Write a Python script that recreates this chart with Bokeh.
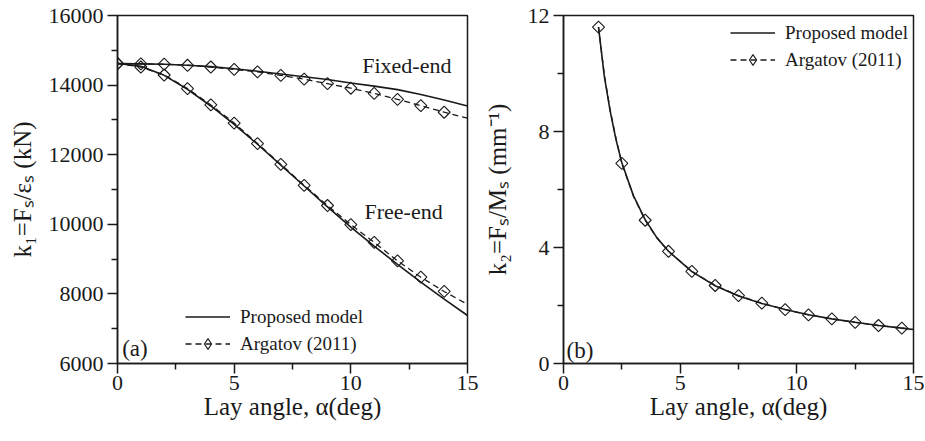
import numpy as np
from bokeh.plotting import figure
from bokeh.models import Legend, LegendItem, Label, FixedTicker, Range1d
from bokeh.layouts import row
from bokeh.embed import file_html
from bokeh.resources import INLINE

# ---------------- data: panel (a) ----------------
alpha_a = [0, 1, 2, 3, 4, 5, 6, 7, 8, 9, 10, 11, 12, 13, 14, 15]
fixed_proposed = [14620, 14610, 14600, 14570, 14530, 14470, 14400, 14320,
                  14240, 14160, 14060, 13970, 13870, 13730, 13570, 13400]
fixed_argatov = [14620, 14610, 14600, 14570, 14520, 14450, 14380, 14280,
                 14170, 14040, 13910, 13760, 13590, 13410, 13220, 13050]
free_proposed = [14620, 14540, 14280, 13880, 13400, 12870, 12300, 11700,
                 11100, 10500, 9920, 9370, 8850, 8340, 7850, 7380]
free_argatov = [14620, 14520, 14290, 13900, 13430, 12910, 12320, 11720,
                11120, 10540, 9990, 9480, 8950, 8480, 8070, 7700]
alpha_a_marks = alpha_a[:-1]
fixed_argatov_marks = fixed_argatov[:-1]
free_argatov_marks = free_argatov[:-1]

# ---------------- data: panel (b) ----------------
alpha_b = [1.5, 1.75, 2.0, 2.25, 2.5, 3.0, 3.5, 4.0, 4.5, 5.5, 6.5, 7.5,
           8.5, 9.5, 10.5, 11.5, 12.5, 13.5, 14.5, 15.0]
k2_proposed = [11.6, 9.9, 8.7, 7.72, 6.92, 5.78, 4.96, 4.34, 3.87, 3.17, 2.68,
               2.33, 2.07, 1.86, 1.68, 1.54, 1.42, 1.31, 1.22, 1.17]
k2_argatov = [11.6, 9.95, 8.74, 7.76, 6.90, 5.77, 4.94, 4.33, 3.87, 3.18, 2.69,
              2.34, 2.08, 1.86, 1.68, 1.54, 1.42, 1.31, 1.22, 1.17]
alpha_b_marks = [1.5, 2.5, 3.5, 4.5, 5.5, 6.5, 7.5, 8.5, 9.5, 10.5, 11.5,
                 12.5, 13.5, 14.5]
k2_argatov_marks = [11.6, 6.90, 4.94, 3.87, 3.18, 2.69, 2.34, 2.08, 1.86,
                    1.68, 1.54, 1.42, 1.31, 1.22]

x_ticks = [0, 5, 10, 15]
x_minor = [2.5, 7.5, 12.5]
ya_ticks = [6000, 8000, 10000, 12000, 14000, 16000]
ya_minor = [7000, 9000, 11000, 13000, 15000]
yb_ticks = [0, 4, 8, 12]
yb_minor = [2, 6, 10]

FONT = "Liberation Serif"
INK = "#1a1a1a"


def style(p):
    p.grid.visible = False
    p.outline_line_color = INK
    p.outline_line_width = 1.5
    for ax in (p.xaxis[0], p.yaxis[0]):
        ax.axis_line_color = INK
        ax.axis_line_width = 1.5
        ax.major_tick_line_color = INK
        ax.minor_tick_line_color = INK
        ax.major_tick_line_width = 1.5
        ax.minor_tick_line_width = 1.5
        ax.major_tick_out = 10
        ax.major_tick_in = 0
        ax.minor_tick_out = 6
        ax.minor_tick_in = 0
        ax.major_label_text_font = FONT
        ax.major_label_text_font_size = "22px"
        ax.major_label_text_color = INK
        ax.axis_label_text_font = FONT
        ax.axis_label_text_font_size = "25px"
        ax.axis_label_text_font_style = "normal"
        ax.axis_label_text_color = INK


def legend_for(p, items, loc):
    lg = Legend(items=items, location=loc)
    lg.background_fill_alpha = 0
    lg.border_line_color = None
    lg.padding = 0
    lg.margin = 0
    lg.spacing = 0
    lg.glyph_width = 45
    lg.glyph_height = 27
    lg.label_height = 27
    lg.label_standoff = 10
    lg.label_text_font = FONT
    lg.label_text_font_size = "19px"
    lg.label_text_color = INK
    p.add_layout(lg, "center")


def marks(p, x, y):
    return p.scatter(x, y, marker="square", angle=np.pi / 4, size=8.5,
                     fill_color=None, line_color=INK, line_width=1.1)


def legend_marker(p):
    # renderer with a NaN point: draws nothing in the plot, only supplies
    # the diamond symbol for the legend entry
    return p.scatter(np.array([np.nan]), np.array([np.nan]), marker="diamond",
                     size=13, fill_color=None, line_color=INK, line_width=1.1)


# ---------------- panel (a) ----------------
p1 = figure(width=480, height=441,
            x_range=Range1d(0, 15), y_range=Range1d(6000, 16000),
            min_border_left=117, min_border_right=13,
            min_border_top=15, min_border_bottom=76,
            output_backend="svg", toolbar_location=None)
style(p1)
p1.xaxis.ticker = FixedTicker(ticks=x_ticks, minor_ticks=x_minor)
p1.yaxis.ticker = FixedTicker(ticks=ya_ticks, minor_ticks=ya_minor)
p1.xaxis.axis_label = "Lay angle, \u03b1(deg)"
p1.yaxis.axis_label = "k\u2081=F\u209b/\u03b5\u209b (kN)"
p1.xaxis.major_label_standoff = 2
p1.xaxis.axis_label_standoff = 0
p1.yaxis.major_label_standoff = 4
p1.yaxis.axis_label_standoff = 10

l_fix = p1.line(alpha_a, fixed_proposed, line_color=INK, line_width=1.6)
p1.line(alpha_a, free_proposed, line_color=INK, line_width=1.6)
d_fix = p1.line(alpha_a, fixed_argatov, line_color=INK, line_width=1.3,
                line_dash="6 4")
p1.line(alpha_a, free_argatov, line_color=INK, line_width=1.3, line_dash="6 4")
marks(p1, alpha_a_marks, fixed_argatov_marks)
marks(p1, alpha_a_marks, free_argatov_marks)
lm1 = legend_marker(p1)

for txt, x, y in [("Fixed-end", 12.4, 14570), ("Free-end", 12.26, 10370)]:
    p1.add_layout(Label(x=x, y=y, text=txt, text_align="center",
                        text_baseline="middle", text_font=FONT,
                        text_font_size="22px", text_color=INK))
p1.add_layout(Label(x=0.2, y=6430, text="(a)", text_align="left",
                    text_baseline="middle", text_font=FONT,
                    text_font_size="23px", text_color=INK))

legend_for(p1, [LegendItem(label="Proposed model", renderers=[l_fix]),
                LegendItem(label="Argatov (2011)", renderers=[d_fix, lm1])],
           (68, 6))

# ---------------- panel (b) ----------------
p2 = figure(width=445, height=441,
            x_range=Range1d(0, 15), y_range=Range1d(0, 12),
            min_border_left=83, min_border_right=12,
            min_border_top=14, min_border_bottom=78,
            output_backend="svg", toolbar_location=None)
style(p2)
p2.xaxis.ticker = FixedTicker(ticks=x_ticks, minor_ticks=x_minor)
p2.yaxis.ticker = FixedTicker(ticks=yb_ticks, minor_ticks=yb_minor)
p2.xaxis.axis_label = "Lay angle, \u03b1(deg)"
p2.yaxis.axis_label = "k\u2082=F\u209b/M\u209b (mm\u207b\u00b9)"
p2.xaxis.major_label_standoff = 2
p2.xaxis.axis_label_standoff = 0
p2.yaxis.major_label_standoff = 4
p2.yaxis.axis_label_standoff = 14

d2 = p2.line(alpha_b, k2_argatov, line_color=INK, line_width=1.3,
             line_dash="6 4")
l2 = p2.line(alpha_b, k2_proposed, line_color=INK, line_width=1.6)
marks(p2, alpha_b_marks, k2_argatov_marks)
lm2 = legend_marker(p2)
p2.add_layout(Label(x=0.13, y=0.45, text="(b)", text_align="left",
                    text_baseline="middle", text_font=FONT,
                    text_font_size="23px", text_color=INK))

legend_for(p2, [LegendItem(label="Proposed model", renderers=[l2]),
                LegendItem(label="Argatov (2011)", renderers=[d2, lm2])],
           (167, 290))

layout = row(p1, p2)
open("out.html", "w").write(file_html(layout, INLINE))
